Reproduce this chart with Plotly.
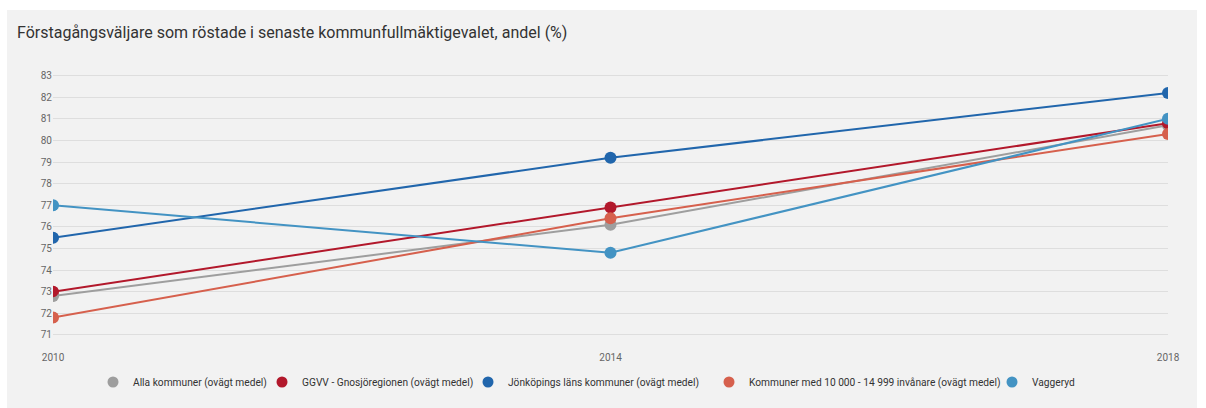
import plotly.graph_objects as go

years = [2010, 2014, 2018]
series_names = [
    "Alla kommuner (ovägt medel)",
    "GGVV - Gnosjöregionen (ovägt medel)",
    "Jönköpings läns kommuner (ovägt medel)",
    "Kommuner med 10 000 - 14 999 invånare (ovägt medel)",
    "Vaggeryd",
]
alla = [72.8, 76.1, 80.7]
ggvv = [73.0, 76.9, 80.8]
jonkoping = [75.5, 79.2, 82.2]
kommuner_10_15 = [71.8, 76.4, 80.3]
vaggeryd = [77.0, 74.8, 81.0]
series_values = [alla, ggvv, jonkoping, kommuner_10_15, vaggeryd]
colors = ["#9e9e9e", "#b2182b", "#2166ac", "#d6604d", "#4393c3"]
y_ticks = list(range(71, 84))
title_text = "Förstagångsväljare som röstade i senaste kommunfullmäktigevalet, andel (%)"

W, H = 1206, 408
L, R, T, B = 53, 38, 70, 58
pw, ph = W - L - R, H - T - B

# pixel x where each legend label's text should start
legend_text_px = [134, 303, 509, 750, 1033]


def px_x(p):
    return (p - L) / pw


def px_y(p):
    return (H - B - p) / ph


legend_ids = ["legend"] + ["legend%d" % i for i in range(2, 6)]

fig = go.Figure()
for name, vals, col in zip(series_names, series_values, colors):
    fig.add_trace(go.Scatter(
        x=years, y=vals, mode="lines+markers", name=name,
        line=dict(color=col, width=2),
        marker=dict(color=col, size=12),
        legendgroup=name, showlegend=False,
    ))
for name, vals, col, lid in zip(series_names, series_values, colors, legend_ids):
    fig.add_trace(go.Scatter(
        x=years[:1], y=vals[:1], mode="markers", name=name,
        marker=dict(color=col, size=11),
        legendgroup=name, showlegend=True, hoverinfo="skip", legend=lid,
    ))

fig.add_shape(type="rect", xref="paper", yref="paper",
              x0=px_x(7), x1=px_x(1197), y0=px_y(410), y1=px_y(10),
              fillcolor="#f2f2f2", line=dict(width=0), layer="below")

legend_layouts = {}
for lid, tx in zip(legend_ids, legend_text_px):
    legend_layouts[lid] = dict(
        orientation="h", x=px_x(tx - 41), xanchor="left",
        y=px_y(382), yanchor="middle", font=dict(size=10.2, color="#333333"),
        bgcolor="rgba(0,0,0,0)", itemwidth=30,
    )

fig.update_layout(
    width=W, height=H,
    margin=dict(l=L, r=R, t=T, b=B, pad=0),
    paper_bgcolor="white",
    plot_bgcolor="rgba(0,0,0,0)",
    font=dict(family="Roboto, sans-serif", color="#333333"),
    title=dict(text=title_text, x=17 / W, xref="container", xanchor="left",
               y=1 - 32 / H, yref="container", yanchor="middle",
               font=dict(size=16, color="#333333")),
    xaxis=dict(range=[2010, 2018], tickvals=years, showgrid=False, zeroline=False,
               showline=False, ticks="", tickfont=dict(size=10, color="#666666")),
    yaxis=dict(range=[70.3, 83.26], tickvals=y_ticks, showgrid=True,
               gridcolor="#dedede", gridwidth=1, zeroline=False, showline=False,
               ticks="", tickfont=dict(size=10, color="#666666")),
    showlegend=True,
    **legend_layouts,
)

fig.write_html("out.html", config={"displayModeBar": False},
               post_script="document.body.style.margin='0';")
